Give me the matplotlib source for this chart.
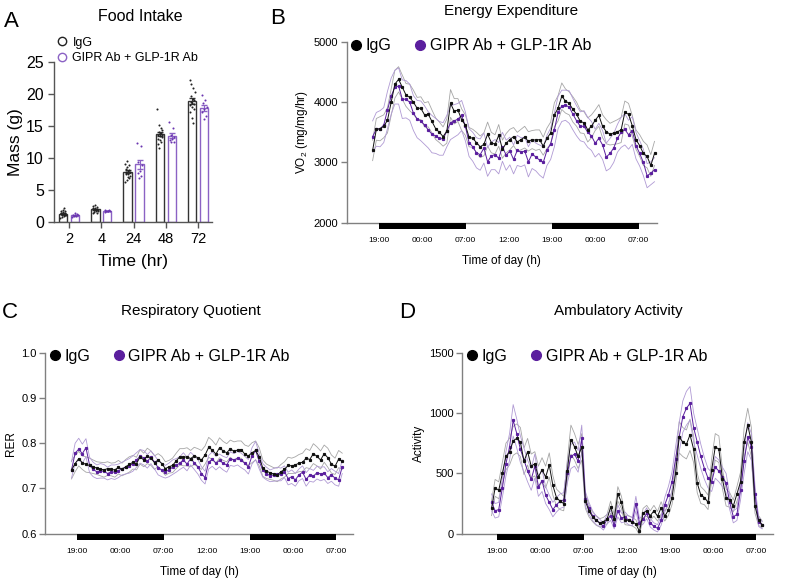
import numpy as np
import matplotlib
matplotlib.use("Agg")
import matplotlib.pyplot as plt
from matplotlib.lines import Line2D
from matplotlib.patches import Rectangle
from matplotlib.transforms import blended_transform_factory

plt.rcParams['font.family'] = ['Liberation Sans', 'DejaVu Sans']
plt.rcParams['mathtext.default'] = 'regular'

# ---------------- Panel A: food intake ----------------
fi_times = ['2', '4', '24', '48', '72']
fi_igg = [
    [0.6, 0.8, 0.9, 1.0, 1.0, 1.1, 1.1, 1.2, 1.2, 1.3, 1.4, 1.5, 1.6, 1.7, 1.9, 2.1],
    [1.3, 1.5, 1.6, 1.7, 1.8, 1.8, 1.9, 1.9, 2.0, 2.0, 2.1, 2.2, 2.3, 2.5, 2.6, 1.4],
    [6.2, 6.6, 7.0, 7.2, 7.4, 7.5, 7.7, 7.8, 8.0, 8.1, 8.3, 8.5, 8.8, 9.1, 9.5, 6.9],
    [17.7, 15.1, 14.6, 14.3, 14.0, 13.8, 13.6, 13.5, 13.4, 13.2, 13.0, 12.8, 12.5, 12.2, 11.5, 13.9],
    [22.2, 21.6, 20.9, 20.3, 19.6, 19.2, 19.0, 18.8, 18.6, 18.4, 18.2, 18.0, 17.6, 17.2, 16.2, 15.5],
]
fi_gipr = [
    [0.8, 0.9, 0.9, 1.0, 1.0, 1.1, 1.2, 1.3],
    [1.5, 1.6, 1.6, 1.7, 1.7, 1.8, 1.9, 1.6],
    [12.3, 11.8, 9.3, 8.9, 8.0, 7.6, 7.2, 6.9],
    [15.6, 14.6, 13.5, 13.2, 13.0, 12.8, 12.5, 12.4],
    [19.8, 19.0, 18.5, 18.0, 17.6, 17.2, 16.6, 16.0],
]

# ---------------- Panels B-D: time courses ----------------
tick_labels = ['19:00', '00:00', '07:00', '12:00', '19:00', '00:00', '07:00']
tick_hours = [0, 6, 12, 18, 24, 30, 36]
dark_start = [0, 24]
dark_len = 12

hours_B = np.linspace(-0.9, 38.2, 77)
hours_CD = np.linspace(-0.8, 36.8, 76)

vo2_igg = [3200, 3550, 3560, 3600, 3700, 4000, 4300, 4380, 4250, 4120,
           4080, 4000, 3900, 3900, 3790, 3800, 3680, 3560, 3500, 3430,
           3520, 3980, 3850, 3870, 3710, 3620, 3420, 3400, 3330, 3260,
           3300, 3470, 3330, 3300, 3450, 3220, 3320, 3380, 3430, 3340,
           3380, 3420, 3350, 3380, 3370, 3380, 3270, 3400, 3490, 3790,
           3900, 4100, 4020, 3980, 3880, 3800, 3680, 3660, 3540, 3600,
           3700, 3780, 3600, 3510, 3470, 3490, 3510, 3540, 3830, 3800,
           3610, 3380, 3280, 3150, 3100, 2950, 3150]
vo2_gipr = [3430, 3550, 3560, 3620, 3870, 4100, 4250, 4270, 4050, 4050,
            4000, 3820, 3720, 3690, 3620, 3540, 3470, 3440, 3400, 3390,
            3520, 3660, 3690, 3720, 3780, 3600, 3330, 3260, 3160, 3130,
            3240, 3010, 3110, 3130, 3070, 3260, 3120, 3190, 3050, 3200,
            3170, 3190, 3010, 3140, 3090, 3040, 3000, 3200, 3310, 3540,
            3830, 3940, 3950, 3920, 3800, 3690, 3600, 3600, 3500, 3440,
            3320, 3400, 3290, 3090, 3150, 3240, 3400, 3500, 3550, 3460,
            3530, 3280, 3150, 3000, 2780, 2820, 2880]
vo2_igg_sem = [170, 180, 200, 190, 210, 220, 230, 210, 200, 190,
               220, 200, 180, 190, 200, 210, 190, 180, 170, 160,
               200, 230, 210, 190, 180, 170, 160, 150, 170, 180,
               190, 200, 170, 160, 180, 150, 160, 170, 150, 160,
               170, 180, 160, 150, 170, 160, 150, 170, 180, 200,
               210, 220, 200, 190, 210, 200, 190, 180, 200, 190,
               170, 180, 190, 200, 180, 190, 200, 210, 190, 180,
               170, 160, 180, 200, 190, 180, 200]
vo2_gipr_sem = [260, 280, 300, 290, 310, 300, 280, 300, 320, 310,
                300, 290, 310, 330, 320, 300, 310, 290, 280, 270,
                260, 280, 270, 260, 250, 240, 230, 240, 250, 260,
                250, 240, 230, 250, 260, 240, 250, 230, 240, 250,
                240, 230, 250, 240, 230, 250, 260, 250, 260, 280,
                270, 260, 250, 270, 260, 250, 240, 260, 250, 240,
                230, 250, 240, 230, 250, 240, 230, 250, 260, 240,
                230, 220, 210, 220, 200, 190, 200]

rer_igg = [0.741, 0.755, 0.766, 0.757, 0.753, 0.751, 0.748, 0.745, 0.743, 0.741,
           0.744, 0.742, 0.741, 0.747, 0.742, 0.748, 0.753, 0.758, 0.755, 0.770,
           0.763, 0.772, 0.767, 0.757, 0.763, 0.755, 0.744, 0.748, 0.751, 0.761,
           0.770, 0.769, 0.770, 0.766, 0.772, 0.768, 0.763, 0.774, 0.791, 0.785,
           0.776, 0.790, 0.783, 0.779, 0.788, 0.782, 0.785, 0.786, 0.776, 0.772,
           0.779, 0.784, 0.770, 0.745, 0.738, 0.735, 0.732, 0.730, 0.737, 0.742,
           0.751, 0.750, 0.752, 0.756, 0.758, 0.767, 0.764, 0.777, 0.771, 0.763,
           0.777, 0.768, 0.754, 0.749, 0.765, 0.760]
rer_gipr = [0.741, 0.778, 0.787, 0.777, 0.790, 0.752, 0.742, 0.737, 0.739, 0.738,
            0.733, 0.737, 0.736, 0.739, 0.744, 0.747, 0.750, 0.755, 0.763, 0.771,
            0.768, 0.760, 0.769, 0.758, 0.746, 0.741, 0.737, 0.741, 0.747, 0.751,
            0.756, 0.763, 0.754, 0.766, 0.757, 0.748, 0.733, 0.724, 0.758, 0.765,
            0.756, 0.762, 0.756, 0.752, 0.766, 0.763, 0.767, 0.762, 0.756, 0.748,
            0.772, 0.784, 0.760, 0.740, 0.733, 0.728, 0.730, 0.732, 0.731, 0.737,
            0.722, 0.726, 0.719, 0.730, 0.736, 0.720, 0.730, 0.727, 0.735, 0.732,
            0.734, 0.724, 0.730, 0.723, 0.719, 0.748]
rer_igg_sem = [0.020, 0.018, 0.016, 0.015, 0.017, 0.016, 0.015, 0.014, 0.015, 0.016,
               0.015, 0.014, 0.016, 0.015, 0.014, 0.016, 0.017, 0.015, 0.014, 0.016,
               0.015, 0.017, 0.016, 0.015, 0.014, 0.016, 0.015, 0.014, 0.016, 0.017,
               0.018, 0.019, 0.020, 0.018, 0.019, 0.020, 0.021, 0.020, 0.022, 0.021,
               0.020, 0.022, 0.021, 0.020, 0.019, 0.021, 0.020, 0.019, 0.020, 0.021,
               0.022, 0.021, 0.020, 0.018, 0.016, 0.015, 0.014, 0.015, 0.016, 0.017,
               0.018, 0.017, 0.018, 0.019, 0.020, 0.021, 0.020, 0.022, 0.021, 0.020,
               0.019, 0.021, 0.020, 0.018, 0.019, 0.018]
rer_gipr_sem = [0.018, 0.022, 0.024, 0.021, 0.020, 0.017, 0.016, 0.015, 0.016, 0.015,
                0.014, 0.015, 0.016, 0.015, 0.014, 0.015, 0.016, 0.017, 0.016, 0.015,
                0.016, 0.015, 0.014, 0.015, 0.016, 0.015, 0.014, 0.015, 0.016, 0.015,
                0.014, 0.016, 0.015, 0.014, 0.015, 0.016, 0.015, 0.014, 0.015, 0.016,
                0.015, 0.014, 0.015, 0.016, 0.015, 0.014, 0.015, 0.016, 0.015, 0.016,
                0.018, 0.020, 0.017, 0.015, 0.014, 0.013, 0.014, 0.015, 0.014, 0.013,
                0.014, 0.015, 0.014, 0.013, 0.014, 0.015, 0.014, 0.013, 0.014, 0.015,
                0.014, 0.013, 0.014, 0.015, 0.014, 0.015]

act_igg = [210, 380, 360, 500, 640, 680, 770, 790, 760, 600,
           680, 560, 580, 470, 530, 470, 570, 400, 300, 270,
           250, 520, 780, 720, 640, 720, 270, 190, 140, 110,
           90, 100, 120, 220, 120, 330, 260, 115, 110, 100,
           80, 20, 170, 190, 150, 190, 145, 215, 145, 195,
           300, 500, 800, 760, 740, 820, 700, 420, 320, 300,
           260, 530, 720, 700, 450, 300, 280, 230, 330, 430,
           760, 900, 760, 230, 110, 75]
act_gipr = [260, 190, 200, 380, 580, 720, 940, 830, 700, 610,
            520, 450, 560, 390, 440, 320, 260, 200, 240, 270,
            280, 500, 640, 660, 600, 790, 290, 210, 150, 110,
            90, 60, 120, 150, 70, 190, 130, 140, 110, 100,
            250, 90, 120, 170, 90, 60, 45, 110, 240, 320,
            430, 620, 800, 970, 1040, 1080, 880, 760, 640, 540,
            460, 430, 550, 520, 470, 420, 260, 140, 160, 360,
            600, 800, 720, 330, 100, 70]
act_igg_sem = [60, 70, 70, 90, 110, 110, 120, 120, 120, 110,
               110, 100, 100, 90, 100, 90, 100, 80, 70, 70,
               60, 90, 120, 110, 100, 110, 60, 50, 40, 40,
               35, 35, 40, 50, 40, 60, 50, 40, 40, 35,
               35, 30, 40, 45, 40, 45, 40, 50, 40, 45,
               60, 90, 130, 120, 120, 130, 110, 80, 70, 60,
               60, 90, 110, 110, 80, 70, 60, 50, 60, 80,
               120, 140, 120, 60, 40, 30]
act_gipr_sem = [70, 60, 60, 80, 100, 110, 130, 120, 110, 100,
                90, 90, 100, 80, 90, 70, 60, 60, 60, 60,
                60, 80, 100, 100, 90, 110, 60, 50, 40, 35,
                30, 30, 40, 40, 30, 50, 40, 40, 35, 35,
                60, 35, 40, 45, 35, 30, 30, 40, 60, 70,
                80, 100, 120, 130, 140, 140, 120, 110, 100, 90,
                80, 80, 90, 90, 80, 80, 60, 50, 50, 80,
                100, 120, 110, 70, 40, 30]

PURPLE = '#5b1f9e'
PURPLE_LIGHT = '#b09ad4'
PURPLE_BAR = '#8b62c4'
GREY_LIGHT = '#a6a6a6'
AXIS_GREY = '#808080'
labels = ['IgG', 'GIPR Ab + GLP-1R Ab']

fig = plt.figure(figsize=(7.87, 5.84), dpi=100)

# ---------- Panel A ----------
axA = fig.add_axes([0.069, 0.6204, 0.2004, 0.2735])
xA = np.arange(len(fi_times))
off, bw = 0.185, 0.26
for dots, sgn, ec, dc in [(fi_igg, -1, '#333333', '#222222'), (fi_gipr, 1, PURPLE_BAR, '#6a35b0')]:
    means = [np.mean(d) for d in dots]
    sems = [np.std(d, ddof=1) / np.sqrt(len(d)) for d in dots]
    axA.bar(xA + sgn * off, means, width=bw, facecolor='white', edgecolor=ec, linewidth=1.0, zorder=2)
    axA.errorbar(xA + sgn * off, means, yerr=sems, fmt='none', ecolor=ec, elinewidth=0.8, capsize=2, zorder=3)
    for i, d in enumerate(dots):
        n = len(d)
        jit = np.array([((j * 5) % n) / (n - 1) - 0.5 for j in range(n)]) * 0.16
        axA.scatter(xA[i] + sgn * off + jit, d, s=2.2, color=dc, zorder=4, linewidths=0)
axA.set_xlim(-0.455, 4.43)
axA.set_ylim(0, 25)
axA.set_yticks([0, 5, 10, 15, 20, 25])
axA.set_xticks(xA)
axA.set_xticklabels(fi_times)
axA.tick_params(axis='y', labelsize=11.5, length=4, width=1, color='#555555')
axA.tick_params(axis='x', labelsize=10.5, length=4, width=1, color='#555555')
for s in ['top', 'right']:
    axA.spines[s].set_visible(False)
for s in ['left', 'bottom']:
    axA.spines[s].set_color('#555555')
    axA.spines[s].set_linewidth(1)
axA.set_ylabel('Mass (g)', fontsize=12.5, labelpad=2)
axA.set_xlabel('Time (hr)', fontsize=12.5, labelpad=6)
hA = [Line2D([], [], marker='o', ls='none', mfc='none', mec='#222222', ms=6, mew=1),
      Line2D([], [], marker='o', ls='none', mfc='none', mec=PURPLE_BAR, ms=6, mew=1)]
axA.legend(hA, labels, loc='lower left', bbox_to_anchor=(0.02, 0.985), frameon=False,
           fontsize=9, handlelength=0.8, handletextpad=0.4, labelspacing=0.3, borderpad=0,
           borderaxespad=0)
fig.text(0.178, 0.972, 'Food Intake', ha='center', va='center', fontsize=11.5)
fig.text(0.005, 0.963, 'A', ha='left', va='center', fontsize=16)


def timecourse(rect, hours, m1, s1, m2, s2, ylim, yticks, yticklabels, ylabel, xlim):
    ax = fig.add_axes(rect)
    hours = np.asarray(hours)
    m1, s1, m2, s2 = map(np.asarray, (m1, s1, m2, s2))
    for m, s, lc in [(m1, s1, GREY_LIGHT), (m2, s2, PURPLE_LIGHT)]:
        ax.plot(hours, m + s, color=lc, lw=0.6, zorder=2)
        ax.plot(hours, m - s, color=lc, lw=0.6, zorder=2)
    ax.plot(hours, m1, color='#111111', lw=0.7, marker='s', ms=1.3, zorder=4)
    ax.plot(hours, m2, color=PURPLE, lw=0.7, marker='s', ms=1.3, zorder=3)
    ax.set_xlim(*xlim)
    ax.set_ylim(*ylim)
    ax.set_yticks(yticks)
    ax.set_yticklabels(yticklabels)
    ax.set_xticks(tick_hours)
    ax.set_xticklabels(tick_labels)
    ax.tick_params(axis='x', length=0, labelsize=6, pad=10)
    ax.tick_params(axis='y', length=4, width=1, color=AXIS_GREY, labelsize=8, pad=2)
    for s in ['top', 'right']:
        ax.spines[s].set_visible(False)
    for s in ['left', 'bottom']:
        ax.spines[s].set_color(AXIS_GREY)
        ax.spines[s].set_linewidth(1)
    trans = blended_transform_factory(ax.transData, ax.transAxes)
    for st in dark_start:
        ax.add_patch(Rectangle((st, -0.037), dark_len, 0.037, transform=trans,
                               facecolor='black', edgecolor='none', clip_on=False, zorder=5))
    ax.set_xlabel('Time of day (h)', fontsize=8.5, labelpad=8)
    ax.set_ylabel(ylabel, fontsize=8.5, labelpad=3)
    h = [Line2D([], [], marker='o', ls='none', color='black', ms=7),
         Line2D([], [], marker='o', ls='none', color=PURPLE, ms=7)]
    ax.legend(h, labels, loc='center left', bbox_to_anchor=(0.0, 0.98), frameon=False,
              fontsize=11.5, ncol=2, handlelength=0.6, handletextpad=0.3, columnspacing=1.5,
              borderpad=0, borderaxespad=0.3)
    return ax


timecourse([0.4405, 0.6187, 0.3939, 0.3094], hours_B, vo2_igg, vo2_igg_sem, vo2_gipr, vo2_gipr_sem,
           (2000, 5000), [2000, 3000, 4000, 5000], ['2000', '3000', '4000', '5000'],
           r'VO$_2$ (mg/mg/hr)', (-4.5, 38.5))
fig.text(0.649, 0.981, 'Energy Expenditure', ha='center', va='center', fontsize=11)
fig.text(0.343, 0.968, 'B', ha='left', va='center', fontsize=16)

timecourse([0.0572, 0.0861, 0.3914, 0.3099], hours_CD, rer_igg, rer_igg_sem, rer_gipr, rer_gipr_sem,
           (0.6, 1.0), [0.6, 0.7, 0.8, 0.9, 1.0], ['0.6', '0.7', '0.8', '0.9', '1.0'],
           'RER', (-4.48, 38.3))
fig.text(0.243, 0.468, 'Respiratory Quotient', ha='center', va='center', fontsize=11)
fig.text(0.003, 0.465, 'C', ha='left', va='center', fontsize=16)

timecourse([0.5874, 0.0861, 0.3948, 0.3099], hours_CD, act_igg, act_igg_sem, act_gipr, act_gipr_sem,
           (0, 1500), [0, 500, 1000, 1500], ['0', '500', '1000', '1500'],
           'Activity', (-4.86, 38.3))
fig.text(0.786, 0.468, 'Ambulatory Activity', ha='center', va='center', fontsize=11)
fig.text(0.507, 0.465, 'D', ha='left', va='center', fontsize=16)

fig.savefig('out.png', dpi=100)
